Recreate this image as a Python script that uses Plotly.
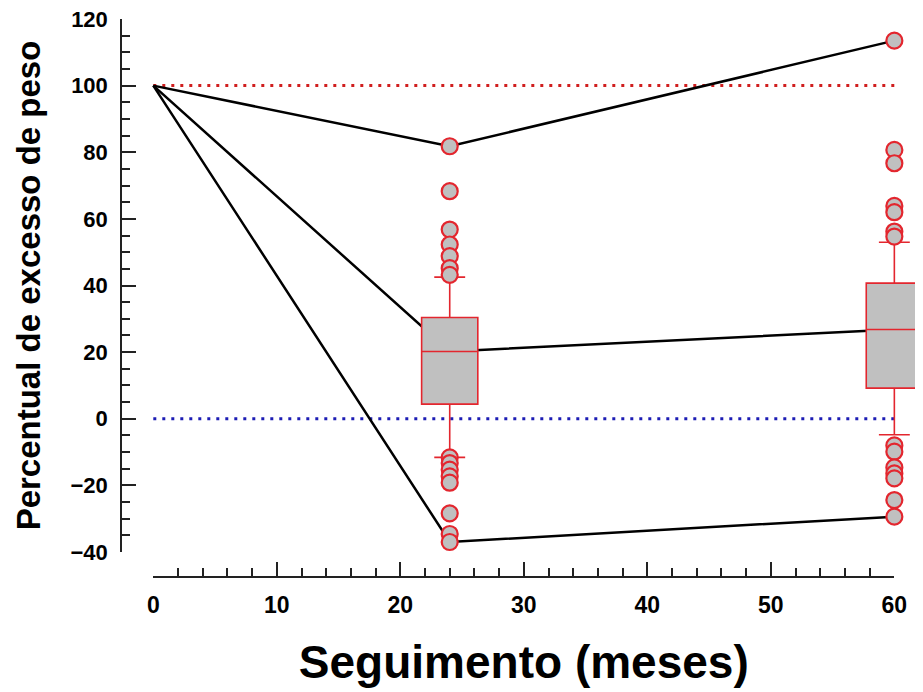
import plotly.graph_objects as go

# ---- data ----
months = [0, 24, 60]
traj_high = [100, 81.8, 113.5]
traj_median = [100, 20.2, 26.8]
traj_low = [100, -37.0, -29.4]

box_x = [24, 60]
box_q1 = [4.4, 9.2]
box_median = [20.2, 26.8]
box_q3 = [30.4, 40.7]
box_lower = [-11.6, -4.8]
box_upper = [42.5, 53.0]

outliers_24 = [81.8, 68.3, 56.8, 52.3, 48.8, 45.2, 43.2,
               -11.6, -13.3, -15.3, -17.3, -19.2, -28.4, -34.6, -37.0]
outliers_60 = [113.5, 80.7, 76.7, 63.9, 62.0, 56.2, 54.7,
               -8.0, -9.9, -14.6, -16.4, -17.9, -24.4, -29.4]

ref_x = [0, 60]
ref_upper = [100, 100]
ref_zero = [0, 0]

x_ticks = [0, 10, 20, 30, 40, 50, 60]
y_ticks = [-40, -20, 0, 20, 40, 60, 80, 100, 120]

RED = "#e3262e"
GRAY = "#c0c0c0"
AX = "#222222"
FONT = "Liberation Sans, Arial, sans-serif"
XRANGE = [-2.534, 62.32]
YRANGE = [-40, 120]

fig = go.Figure()

# reference dotted lines (main subplot, bottom layer)
fig.add_trace(go.Scatter(x=ref_x, y=ref_upper, mode="lines",
                         line=dict(color="#d01e1e", width=3, dash="3px,6px"),
                         hoverinfo="skip"))
fig.add_trace(go.Scatter(x=ref_x, y=ref_zero, mode="lines",
                         line=dict(color="#1c1cb4", width=3, dash="3px,6px"),
                         hoverinfo="skip"))

# trajectories
for ys in (traj_high, traj_median, traj_low):
    fig.add_trace(go.Scatter(x=months, y=ys, mode="lines",
                             line=dict(color="black", width=2.5)))

# boxes (overlay subplot, drawn above the lines)
fig.add_trace(go.Box(x=box_x, q1=box_q1, median=box_median, q3=box_q3,
                     lowerfence=box_lower, upperfence=box_upper,
                     boxpoints=False, width=4.55, whiskerwidth=0.55,
                     fillcolor=GRAY, line=dict(color=RED, width=1.6),
                     xaxis="x3", yaxis="y3"))

# outlier points (overlay subplot, above boxes)
ox = [24] * len(outliers_24) + [60] * len(outliers_60)
oy = outliers_24 + outliers_60
fig.add_trace(go.Scatter(x=ox, y=oy, mode="markers",
                         marker=dict(size=16, color=GRAY,
                                     line=dict(color=RED, width=2.2)),
                         xaxis="x3", yaxis="y3"))

# dummy trace to display the offset x axis
fig.add_trace(go.Scatter(x=[0, 60], y=[None, None], xaxis="x2", yaxis="y2",
                         mode="markers", hoverinfo="skip"))

hidden = dict(automargin=False, showticklabels=False, ticks="",
              showline=False, showgrid=False, zeroline=False)

fig.update_layout(
    template="none",
    width=915, height=684,
    margin=dict(l=114, r=0, t=11, b=116),
    paper_bgcolor="white", plot_bgcolor="rgba(0,0,0,0)",
    showlegend=False,
    font=dict(family=FONT, color="black"),
    xaxis=dict(range=XRANGE, domain=[0, 1], **hidden),
    yaxis=dict(range=YRANGE, domain=[0.0431, 1], automargin=False,
               tickvals=y_ticks, ticks="inside", ticklen=14, tickwidth=1.5,
               tickcolor=AX, showline=True, linecolor=AX, linewidth=1.5,
               showgrid=False, zeroline=False,
               minor=dict(dtick=5, ticks="inside", ticklen=8, tickwidth=1.5,
                          tickcolor=AX, showgrid=False),
               tickfont=dict(size=22, family=FONT, weight="bold"),
               ticklabelstandoff=8, ticklabeloverflow="allow",
               title=dict(text="Percentual de excesso de peso",
                          font=dict(size=33, family=FONT, weight="bold"),
                          standoff=20)),
    xaxis3=dict(range=XRANGE, overlaying="x", visible=False, **hidden),
    yaxis3=dict(range=YRANGE, overlaying="y", visible=False, **hidden),
    xaxis2=dict(range=[0, 60], domain=[0.0391, 0.9642], anchor="y2",
                automargin=False,
                tickvals=x_ticks, ticks="inside", ticklen=14,
                tickwidth=1.5, tickcolor=AX, showline=True,
                linecolor=AX, linewidth=1.5, showgrid=False,
                zeroline=False,
                minor=dict(dtick=2, ticks="inside", ticklen=8, tickwidth=1.5,
                           tickcolor=AX, showgrid=False),
                tickfont=dict(size=23, family=FONT, weight="bold"),
                ticklabelstandoff=8, ticklabeloverflow="allow",
                title=dict(text="Seguimento (meses)",
                           font=dict(size=46, family=FONT, weight="bold"),
                           standoff=28)),
    yaxis2=dict(range=YRANGE, domain=[0, 1], anchor="x2", **hidden),
)

fig.write_html("out.html")
